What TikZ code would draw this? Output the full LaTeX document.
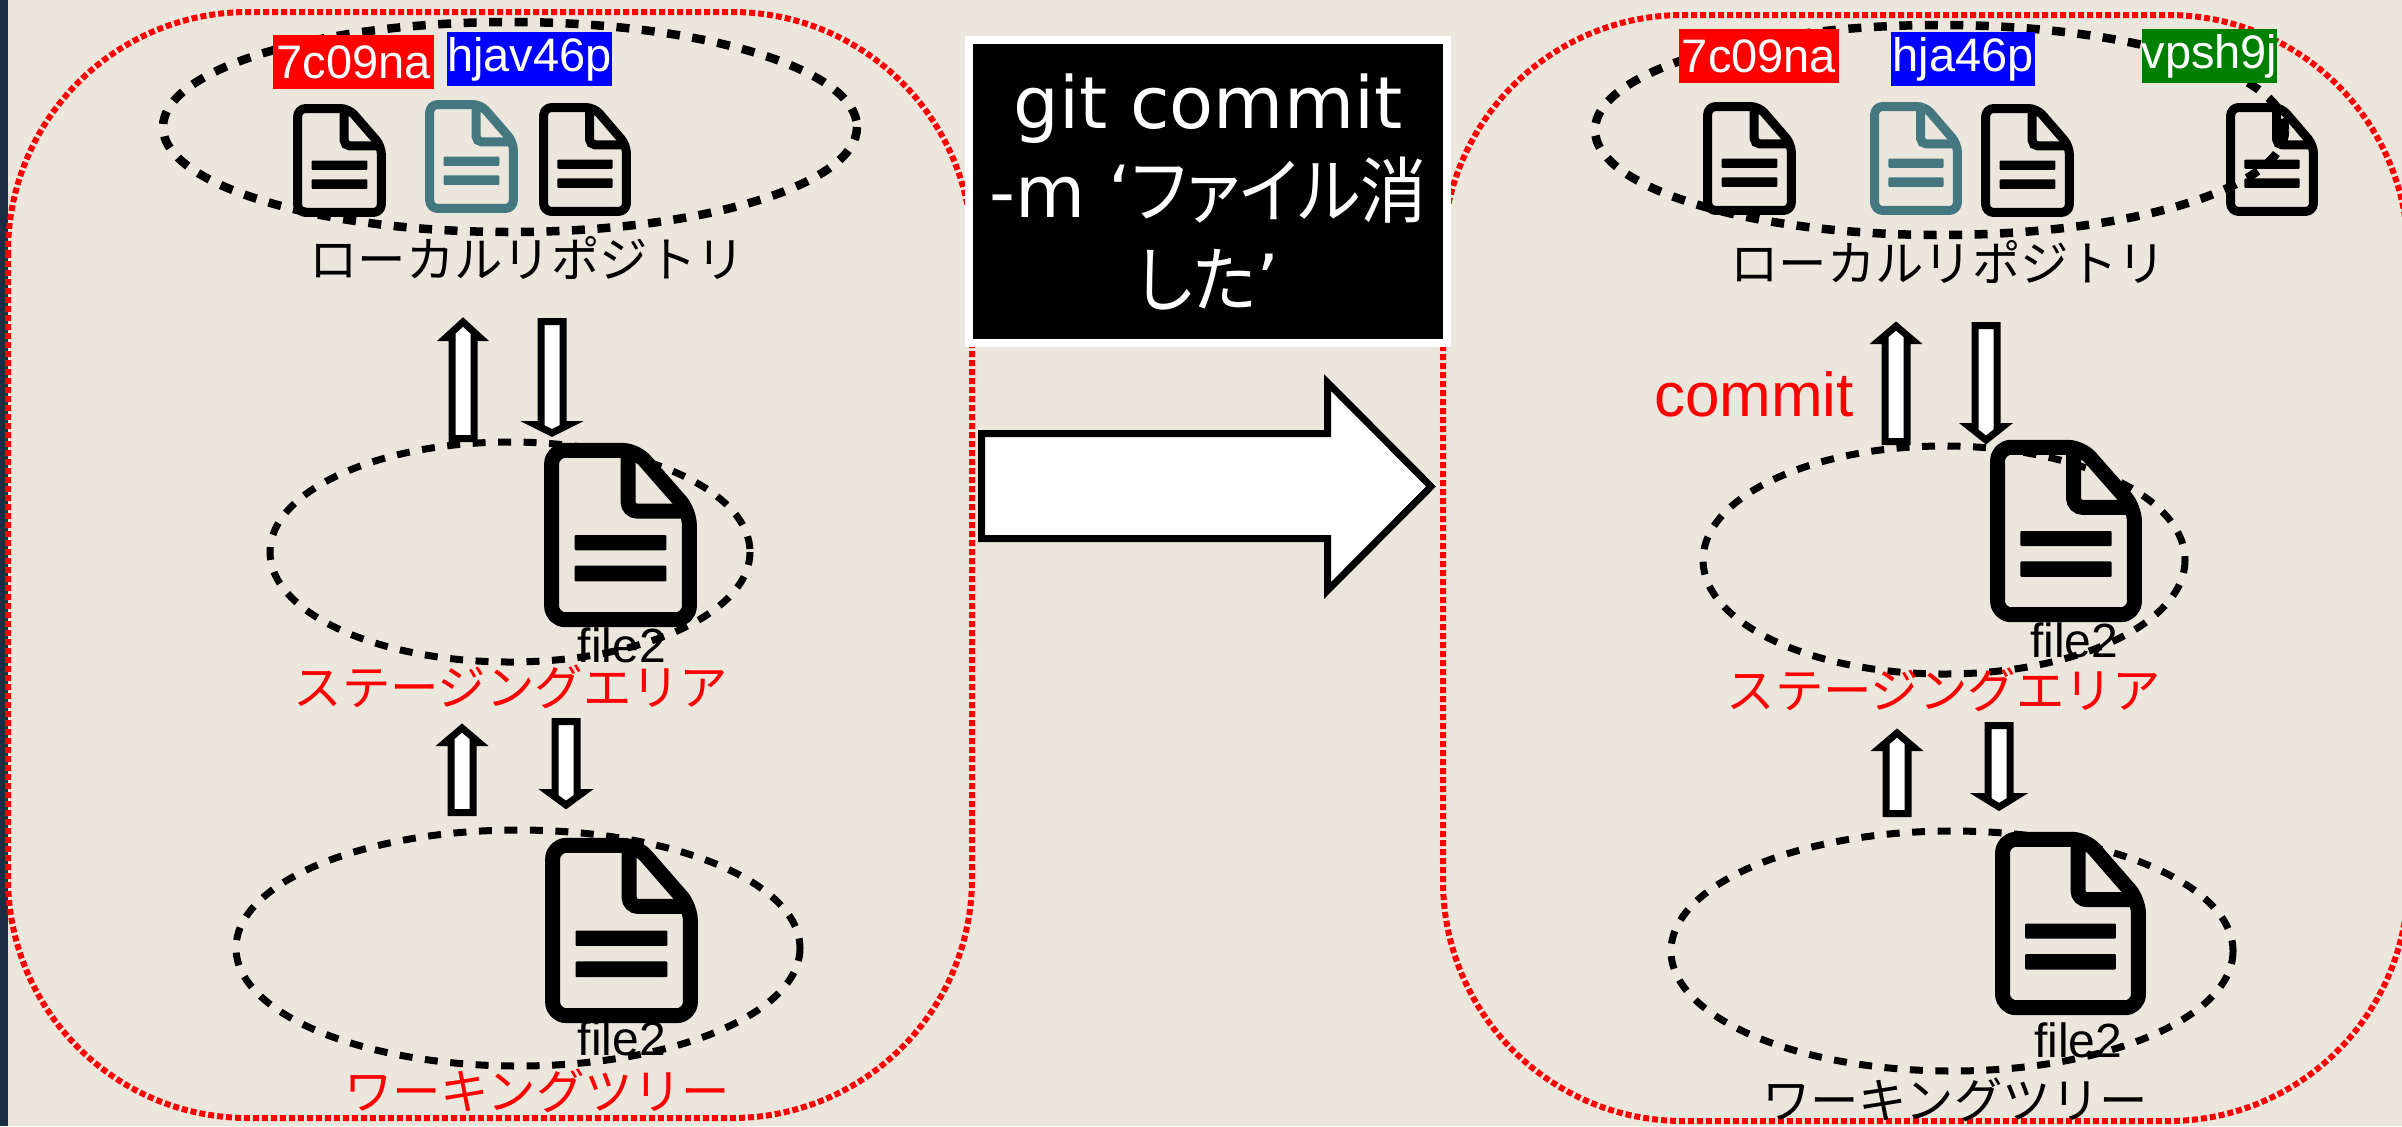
\documentclass[tikz,border=0pt]{standalone}
\usepackage{fontspec}
\setmainfont{Liberation Sans}
\newfontfamily\dejavu{DejaVu Sans}
\newfontfamily\jp{Noto Sans CJK JP}
\newfontfamily\jpp[RawFeature=+palt,FakeStretch=0.92]{Noto Sans CJK JP}
\definecolor{paper}{HTML}{EBE7DD}
\definecolor{strip}{HTML}{1B2D42}
\definecolor{tealdoc}{HTML}{44777F}
\definecolor{gitgreen}{HTML}{008000}
\newcommand{\docicon}[6]{%
  \begin{scope}[shift={(#1,#2)},x={#3*0.5pt},y={#4*-0.5pt}]
    \draw[#6,line width=#5*0.5pt,line join=round,rounded corners=#5*0.45pt]
      (0.05,0.96) -- (0.05,0.04) -- (0.6,0.04) -- (0.95,0.372) -- (0.95,0.96) -- cycle;
    \draw[#6,line width=#5*0.5pt,rounded corners=#5*0.3pt]
      (0.55,0.04) -- (0.55,0.37) -- (0.95,0.37);
    \fill[#6,rounded corners=0.5pt] (0.2,0.5) rectangle (0.8,0.583);
    \fill[#6,rounded corners=0.5pt] (0.2,0.667) rectangle (0.8,0.752);
  \end{scope}}
\newcommand{\uparr}[4]{% cx, tip, head base, bottom
  \draw[blockarrow] ({#1-11},{#4-3.5}) -- ({#1-11},{#3-3.5}) -- ({#1-17},{#3-3.5}) -- (#1,{#2+10})
    -- ({#1+17},{#3-3.5}) -- ({#1+11},{#3-3.5}) -- ({#1+11},{#4-3.5}) -- cycle;}
\newcommand{\downarr}[4]{% cx, top, head base, tip
  \draw[blockarrow] ({#1-11},{#2+3.5}) -- ({#1-11},{#3+3.5}) -- ({#1-17},{#3+3.5}) -- (#1,{#4-10})
    -- ({#1+17},{#3+3.5}) -- ({#1+11},{#3+3.5}) -- ({#1+11},{#2+3.5}) -- cycle;}
\tikzset{
  x=0.5pt,y=-0.5pt,
  panel/.style={draw=red,line width=3pt,dash pattern=on 3pt off 1.5pt,rounded corners=120pt},
  zone/.style={draw=black,line width=3.5pt,dash pattern=on 6.5pt off 6.25pt},
  topzone/.style={draw=black,line width=4.25pt,dash pattern=on 6.5pt off 6.25pt},
  blockarrow/.style={draw=black,fill=white,line width=3.5pt,line join=miter,miter limit=10},
  hash/.style={text=white,inner sep=0pt,font=\fontsize{23.5}{23.5}\selectfont},
  area/.style={inner sep=0pt,font=\jp\fontsize{24.2}{24.2}\selectfont},
  fname/.style={inner sep=0pt,anchor=base,font=\fontsize{24}{24}\selectfont},
}
\begin{document}
\begin{tikzpicture}
\useasboundingbox (0,0) rectangle (2402,1126);
\clip (0,0) rectangle (2402,1126);
\fill[paper] (0,0) rectangle (2402,1126);
\fill[strip] (0,0) rectangle (8,1126);
% panels
\draw[panel] (8,12) rectangle (972,1118);
\draw[panel] (1443,15) rectangle (2408,1121);
% zones
\draw[topzone] (510,127) ellipse [x radius=347,y radius=105];
\draw[zone] (510,552) ellipse [x radius=240,y radius=110];
\draw[zone] (518,948) ellipse [x radius=282,y radius=118];
\draw[topzone] (1940,130) ellipse [x radius=345,y radius=105];
\draw[zone] (1944,560) ellipse [x radius=241,y radius=114];
\draw[zone] (1952,951) ellipse [x radius=281,y radius=120];
% left documents
\docicon{293}{104}{93}{113}{9}{black}
\docicon{425}{100}{93}{113}{9}{tealdoc}
\docicon{539}{103}{92}{113}{9}{black}
\docicon{544}{443}{153}{184}{15}{black}
\docicon{545}{838}{153}{185}{15}{black}
% right documents
\docicon{1703}{102}{93}{113}{9}{black}
\docicon{1870}{102}{92}{113}{9}{tealdoc}
\docicon{1981}{104}{93}{113}{9}{black}
\docicon{2226}{103}{92}{113}{9}{black}
\docicon{1990}{440}{152}{182}{15}{black}
\docicon{1995}{832}{151}{183}{15}{black}
% block arrows
\uparr{463}{312}{341}{442}
\downarr{552}{318}{421}{443}
\uparr{462}{718}{746}{816}
\downarr{566}{718}{789}{815}
\uparr{1896}{316}{344}{445}
\downarr{1986}{322}{423}{450}
\uparr{1897}{723}{751}{817}
\downarr{1999}{722}{793}{817}
% hashes
\node[hash,fill=red,minimum width=80.5pt,minimum height=27pt] (h1) at (353.5,62) {7c09na};
\node[hash,fill=blue,minimum width=82.5pt,minimum height=27pt] (h2) at (529.5,59) {hjav46p};
\node[hash,fill=red,minimum width=80pt,minimum height=27pt] (h3) at (1759,56) {7c09na};
\node[hash,fill=blue,minimum width=72pt,minimum height=27pt] (h4) at (1963,59) {hja46p};
\node[hash,fill=gitgreen,minimum width=67.5pt,minimum height=27pt] (h5) at (2209.5,56) {vpsh9j};
% area labels
\node[area] (l1) at (527,258) {ローカルリポジトリ};
\node[area,text=red] (l2) at (511,687) {ステージングエリア};
\node[area,text=red] (l3) at (537,1091) {ワーキングツリー};
\node[area] (r1) at (1948,262) {ローカルリポジトリ};
\node[area,text=red] (r2) at (1944,690) {ステージングエリア};
\node[area] (r3) at (1955,1100) {ワーキングツリー};
% file names
\node[fname] (f1) at (622,662) {file2};
\node[fname] (f2) at (622,1055) {file2};
\node[fname] (f3) at (2074,657) {file2};
\node[fname] (f4) at (2078,1057) {file2};
\node[inner sep=0pt,anchor=base,text=red,font=\fontsize{31}{31}\selectfont] (c) at (1754,416) {commit};
% big arrow
\draw[blockarrow] (981.5,433.5) -- (1327.5,433.5) -- (1327.5,382.5) -- (1431,486.5)
  -- (1327.5,590.5) -- (1327.5,538.5) -- (981.5,538.5) -- cycle;
% command box
\node[fill=black,draw=white,line width=4.25pt,text=white,inner sep=0pt,
  minimum width=239pt,minimum height=151.5pt,align=center,
  font=\dejavu\fontsize{36}{44.5}\selectfont] (cmd) at (1208,191.5)
  {git commit\\-m ‘{\jpp ファイル消}\\{\jpp した}’};
\end{tikzpicture}
\end{document}
